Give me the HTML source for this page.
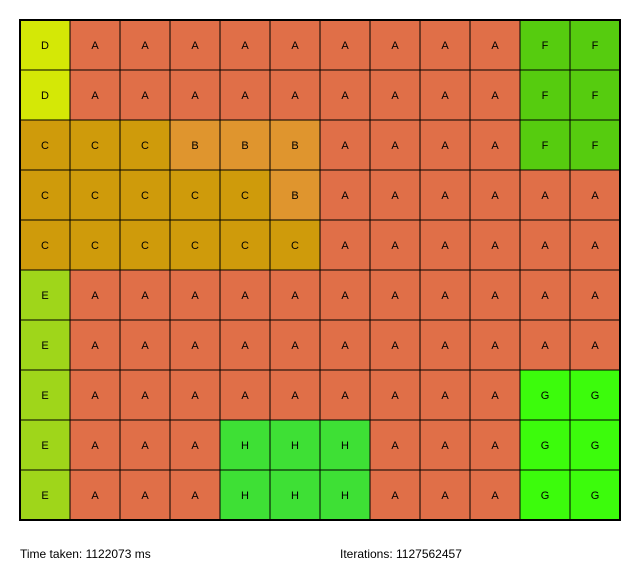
<!DOCTYPE html>
<html><head><meta charset="utf-8"><style>
body{margin:0;background:#fff;width:640px;height:580px;overflow:hidden;font-family:"Liberation Sans",sans-serif}
svg{position:absolute;left:0;top:0}
.t{position:absolute;top:547px;font-size:12px;color:#000}
</style></head><body>
<svg id="chart" width="640" height="530"></svg>
<div class="t" style="left:20px">Time taken: 1122073 ms</div>
<div class="t" style="left:340px">Iterations: 1127562457</div>
<script>
const rows = [
"DAAAAAAAAAFF",
"DAAAAAAAAAFF",
"CCCBBBAAAAFF",
"CCCCCBAAAAAA",
"CCCCCCAAAAAA",
"EAAAAAAAAAAA",
"EAAAAAAAAAAA",
"EAAAAAAAAAGG",
"EAAAHHHAAAGG",
"EAAAHHHAAAGG"
];
const colors = {A:"#e06f48",B:"#df952e",C:"#cf9b0b",D:"#d4e806",E:"#9fd61a",F:"#56cc0f",G:"#3cfc0c",H:"#3ee035"};
const svg = document.getElementById('chart');
const NS = "http://www.w3.org/2000/svg";
const x0=20,y0=20,cw=50,ch=50;
rows.forEach((r,i)=>{
  [...r].forEach((c,j)=>{
    const rect=document.createElementNS(NS,'rect');
    rect.setAttribute('x',x0+j*cw);rect.setAttribute('y',y0+i*ch);
    rect.setAttribute('width',cw);rect.setAttribute('height',ch);
    rect.setAttribute('fill',colors[c]);rect.setAttribute('stroke','#000');rect.setAttribute('stroke-width','1');
    
    
    svg.appendChild(rect);
    const t=document.createElementNS(NS,'text');
    t.setAttribute('x',x0+j*cw+cw/2);t.setAttribute('y',y0+i*ch+ch/2+4);
    t.setAttribute('text-anchor','middle');t.setAttribute('font-size','11');
    t.setAttribute('font-family','Liberation Sans, sans-serif');
    t.textContent=c;
    
    
    svg.appendChild(t);
  });
});
const b=document.createElementNS(NS,'rect');
b.setAttribute('x',x0);b.setAttribute('y',y0);b.setAttribute('width',cw*12);b.setAttribute('height',ch*10);
b.setAttribute('fill','none');b.setAttribute('stroke','#000');b.setAttribute('stroke-width','2');


svg.appendChild(b);
</script>
</body></html>
